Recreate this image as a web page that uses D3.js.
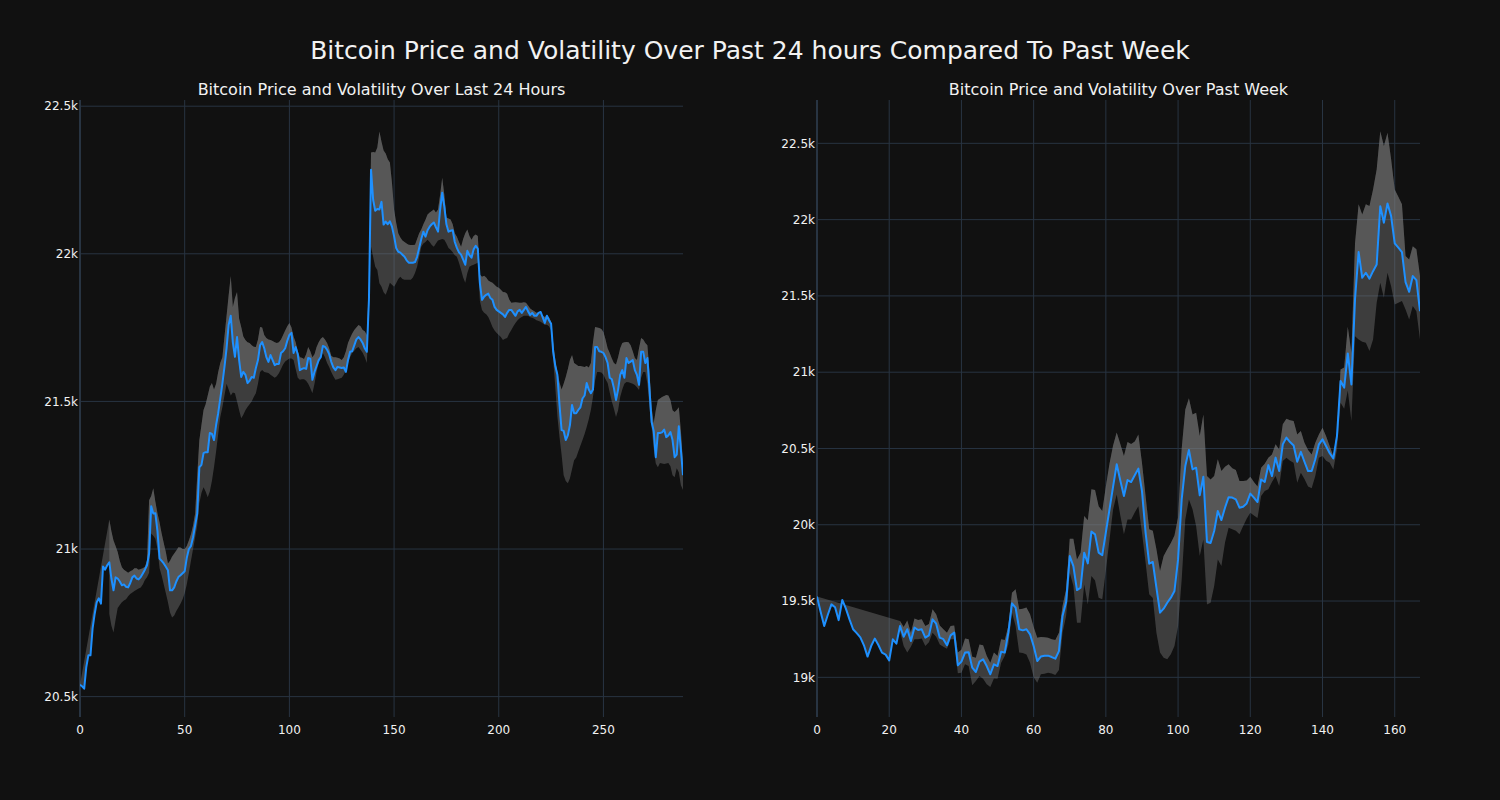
<!DOCTYPE html>
<html><head><meta charset="utf-8">
<script src="https://cdn.jsdelivr.net/npm/d3@7"></script>
<style>html,body{margin:0;background:#111111;}svg{display:block;}</style>
</head><body><svg id="chart" width="1500" height="800"></svg>
<script>
// ---------- DATA: last 24 hours (5-minute steps, index 0..288) ----------
const dayPrice = [
20540,20535,20527,20600,20640,20640,20730,20780,20820,20833,
20815,20941,20930,20945,20955,20900,20860,20904,20900,20890,
20877,20880,20872,20870,20885,20904,20910,20900,20897,20905,
20917,20930,20945,20985,21145,21120,21121,21060,20968,20960,
20951,20940,20928,20860,20860,20870,20890,20905,20911,20918,
20925,20970,21000,21010,21040,21080,21120,21277,21285,21325,
21328,21328,21393,21390,21369,21420,21460,21510,21560,21617,
21680,21760,21790,21700,21651,21718,21640,21583,21600,21590,
21562,21570,21583,21580,21613,21640,21690,21701,21680,21650,
21634,21657,21640,21623,21627,21627,21664,21670,21680,21705,
21725,21732,21664,21684,21660,21606,21610,21613,21610,21647,
21645,21573,21600,21620,21640,21650,21688,21685,21675,21660,
21634,21615,21606,21617,21615,21613,21615,21600,21640,21668,
21670,21690,21710,21718,21710,21698,21680,21668,21844,22285,
22183,22146,22152,22150,22176,22099,22109,22100,22110,22092,
22060,22020,22007,22004,21997,21990,21978,21970,21970,21970,
21972,21990,22020,22050,22075,22058,22080,22092,22100,22106,
22090,22075,22150,22207,22160,22100,22075,22078,22080,22040,
22020,22005,21997,21980,21963,22010,21995,21987,22015,22027,
22017,21900,21844,21855,21861,21865,21850,21844,21820,21810,
21805,21800,21795,21786,21800,21810,21810,21800,21790,21805,
21810,21800,21810,21820,21805,21793,21800,21790,21790,21800,
21803,21785,21766,21790,21775,21763,21668,21620,21590,21490,
21403,21400,21369,21385,21420,21488,21460,21460,21471,21480,
21510,21520,21562,21540,21528,21540,21684,21684,21670,21668,
21664,21650,21630,21580,21575,21545,21505,21540,21590,21606,
21580,21647,21630,21635,21640,21606,21590,21556,21668,21668,
21630,21647,21540,21430,21400,21311,21393,21393,21395,21405,
21379,21385,21396,21369,21311,21320,21416,21335,21250
];
const dayUpper = [
null,null,null,null,null,null,null,null,null,null,
null,null,null,null,21100,21060,21029,21010,20990,20960,
20938,20930,20925,20920,20925,20928,20935,20935,20930,20932,
20935,20940,20960,21165,21180,21206,21160,21121,21090,21053,
21020,20990,20951,20960,20975,20985,20995,21006,21005,21000,
21000,21010,21029,21050,21080,21121,21250,21369,21420,21471,
21490,21520,21550,21562,21540,21560,21600,21630,21650,21720,
21790,21860,21925,21820,21850,21871,21780,21752,21720,21708,
21700,21698,21690,21685,21684,21710,21752,21750,21725,21715,
21710,21708,21705,21700,21698,21700,21710,21725,21740,21755,
21766,21750,21720,21700,21670,21650,21648,21644,21660,21684,
21670,21650,21660,21684,21700,21712,21718,21710,21698,21680,
21655,21650,21650,21648,21645,21640,21650,21670,21698,21715,
21730,21742,21750,21759,21755,21742,21738,21725,21900,22343,
22345,22343,22360,22414,22380,22350,22340,22320,22309,22241,
22150,22106,22070,22055,22045,22040,22035,22031,22030,22030,
22031,22050,22070,22082,22100,22115,22133,22140,22145,22150,
22140,22150,22200,22258,22200,22123,22120,22116,22100,22070,
22058,22040,22024,22050,22070,22082,22060,22048,22060,22065,
22060,21930,21922,21926,21920,21910,21905,21902,21895,21888,
21885,21878,21871,21870,21865,21845,21834,21835,21836,21835,
21834,21834,21836,21834,21825,21815,21810,21805,21800,21800,
21798,21790,21786,21790,21785,21770,21700,21640,21600,21565,
21540,21560,21583,21610,21640,21657,21630,21625,21620,21620,
21618,21617,21620,21615,21630,21700,21752,21750,21749,21745,
21735,21710,21680,21664,21645,21630,21625,21650,21680,21698,
21700,21701,21700,21690,21670,21647,21640,21680,21715,21710,
21698,21690,21600,21480,21426,21470,21505,21510,21515,21518,
21522,21520,21505,21470,21464,21471,21480,21400,21290
];
const dayLower = [
null,null,null,null,null,null,null,null,null,null,
null,null,null,null,20780,20740,20717,20760,20800,20810,
20820,20826,20830,20840,20848,20853,20858,20862,20866,20870,
20880,20895,20904,20920,21053,21045,21035,21000,20935,20910,
20880,20850,20820,20785,20768,20775,20790,20802,20815,20830,
20850,20880,20920,20960,21000,21040,21080,21155,21190,21209,
21195,21175,21195,21230,21277,21330,21390,21447,21480,21520,
21560,21540,21520,21530,21528,21500,21470,21443,21455,21470,
21481,21490,21500,21515,21528,21560,21600,21606,21600,21598,
21596,21590,21585,21580,21585,21595,21610,21625,21635,21640,
21645,21645,21640,21610,21580,21573,21575,21575,21570,21560,
21545,21528,21560,21600,21630,21650,21664,21650,21630,21617,
21600,21585,21573,21575,21578,21580,21590,21606,21630,21650,
21664,21672,21680,21684,21675,21665,21650,21630,21800,22024,
21990,21956,21945,21900,21888,21870,21861,21880,21902,21895,
21888,21900,21915,21922,21915,21912,21912,21912,21912,21920,
21935,21956,21990,22024,22035,22040,22048,22040,22030,22024,
22035,22045,22048,22050,22048,22035,22020,22014,22005,21995,
21990,21970,21946,21920,21902,21935,21956,21960,21963,21966,
21970,21840,21810,21800,21795,21786,21770,21752,21740,21732,
21725,21718,21708,21712,21715,21730,21742,21755,21766,21775,
21782,21786,21790,21790,21790,21785,21783,21780,21775,21772,
21770,21765,21759,21760,21755,21740,21640,21549,21450,21380,
21320,21250,21230,21223,21240,21270,21301,21310,21330,21350,
21369,21390,21413,21440,21471,21515,21570,21600,21600,21598,
21590,21575,21562,21530,21500,21475,21447,21470,21515,21540,
21560,21566,21565,21562,21560,21556,21548,21539,21580,21600,
21600,21560,21480,21413,21340,21290,21277,21291,21290,21288,
21290,21291,21280,21250,21243,21274,21260,21216,21200
];

// ---------- DATA: past week (hourly, index 0..167) ----------
const weekPrice = [
19529,19430,19336,19410,19478,19459,19375,19507,19450,19380,
19315,19290,19262,19210,19136,19205,19254,19212,19162,19149,
19111,19249,19221,19336,19266,19315,19238,19326,19310,19315,
19260,19275,19380,19352,19260,19250,19210,19275,19293,19079,
19103,19162,19165,19063,19035,19103,19118,19074,19020,19085,
19074,19168,19162,19293,19485,19457,19315,19308,19315,19282,
19205,19107,19136,19142,19142,19133,19122,19172,19402,19493,
19795,19729,19572,19588,19817,19747,19955,19937,19817,19800,
19950,20100,20250,20396,20290,20188,20293,20280,20325,20368,
20221,19948,19745,19756,19588,19424,19450,19489,19522,19566,
19773,20166,20385,20490,20363,20374,20193,20315,19887,19880,
19959,20090,20031,20112,20181,20178,20166,20112,20118,20140,
20204,20178,20149,20297,20280,20391,20319,20440,20352,20527,
20571,20542,20520,20413,20478,20413,20352,20352,20429,20527,
20560,20515,20469,20435,20581,20942,20899,21123,20920,21477,
21787,21619,21652,21613,21662,21706,22088,21980,22106,22023,
21844,21816,21787,21590,21527,21630,21603,21400
];
const weekUpper = [
null,null,null,null,null,null,null,null,null,null,
null,null,null,null,null,null,null,null,null,null,
null,null,null,19370,19330,19373,19293,19385,19375,19380,
19336,19350,19446,19413,19340,19315,19293,19336,19340,19162,
19180,19254,19250,19135,19129,19216,19210,19142,19096,19162,
19140,19249,19245,19336,19555,19577,19446,19450,19457,19413,
19330,19260,19265,19262,19260,19250,19245,19293,19467,19577,
19909,19909,19773,19817,20057,20030,20232,20228,20122,20090,
20250,20400,20520,20604,20530,20451,20542,20530,20545,20592,
20407,20188,19970,19960,19839,19697,19795,19839,19880,19930,
20050,20500,20756,20830,20723,20734,20581,20723,20319,20297,
20319,20429,20352,20380,20396,20370,20359,20286,20286,20290,
20315,20280,20250,20374,20400,20440,20461,20527,20494,20658,
20695,20685,20680,20592,20614,20538,20490,20461,20538,20592,
20636,20580,20515,20450,20604,21018,21030,21298,21128,21843,
22100,22034,22100,22090,22198,22329,22580,22482,22570,22395,
22198,22150,22100,21761,21739,21826,21806,21630
];
const weekLower = [
null,null,null,null,null,null,null,null,null,null,
null,null,null,null,null,null,null,null,null,null,
null,null,null,19300,19205,19162,19200,19250,19250,19254,
19205,19230,19293,19266,19215,19200,19188,19250,19250,19026,
19030,19085,19074,18948,18976,19009,18990,18954,18936,18993,
18990,19096,19140,19216,19424,19336,19162,19160,19150,19096,
19000,18965,19020,19024,19030,19025,19015,19048,19293,19402,
19686,19600,19358,19358,19609,19478,19664,19635,19522,19511,
19700,19900,20100,20199,20060,19937,20035,20035,20080,20122,
19948,19752,19544,19520,19293,19162,19129,19118,19151,19205,
19336,19642,20035,20166,20101,19991,19795,19904,19478,19489,
19598,19773,19730,19883,19981,19970,19960,19937,19991,20040,
20079,20060,20045,20188,20221,20232,20280,20319,20254,20418,
20440,20420,20407,20276,20341,20300,20250,20240,20319,20440,
20451,20420,20407,20363,20494,20800,20760,20880,20680,21236,
21215,21200,21193,21139,21215,21455,21586,21488,21652,21564,
21444,21455,21466,21411,21346,21433,21400,21215
];

// ---------- tick values ----------
const dayXTicks = [0, 50, 100, 150, 200, 250];
const dayYTicks = [20500, 21000, 21500, 22000, 22500];
const weekXTicks = [0, 20, 40, 60, 80, 100, 120, 140, 160];
const weekYTicks = [19000, 19500, 20000, 20500, 21000, 21500, 22000, 22500];

const mainTitle = "Bitcoin Price and Volatility Over Past 24 hours Compared To Past Week";
const dayTitle = "Bitcoin Price and Volatility Over Last 24 Hours";
const weekTitle = "Bitcoin Price and Volatility Over Past Week";

// ---------- layout ----------
const FONT = "'DejaVu Sans', Verdana, sans-serif";
const TEXT = "#f2f2f2";
const GRID = "#283442";
const LINE = "#1e90ff";
const BAND = "rgba(128,128,128,0.40)";
const TOP = 100, BOTTOM = 717;

const svg = d3.select("#chart");
svg.append("rect").attr("width", 1500).attr("height", 800).attr("fill", "#111111");

svg.append("text").attr("x", 750).attr("y", 58.5).attr("text-anchor", "middle")
  .attr("font-family", FONT).attr("font-size", 25).attr("fill", TEXT).text(mainTitle);

const panels = [
  {title: dayTitle, price: dayPrice, upper: dayUpper, lower: dayLower,
   xTicks: dayXTicks, yTicks: dayYTicks, xMax: 288, yDomain: [20431, 22521], left: 80, right: 683},
  {title: weekTitle, price: weekPrice, upper: weekUpper, lower: weekLower,
   xTicks: weekXTicks, yTicks: weekYTicks, xMax: 167, yDomain: [18740, 22784], left: 817, right: 1420}
];

const fmtK = v => (v / 1000) + "k";

panels.forEach(p => {
  const x = d3.scaleLinear().domain([0, p.xMax]).range([p.left, p.right]);
  const y = d3.scaleLinear().domain(p.yDomain).range([BOTTOM, TOP]);
  const g = svg.append("g");

  // grid
  g.selectAll(".hg").data(p.yTicks).join("line")
    .attr("x1", p.left).attr("x2", p.right)
    .attr("y1", d => y(d)).attr("y2", d => y(d))
    .attr("stroke", GRID).attr("stroke-width", 1);
  g.selectAll(".vg").data(p.xTicks.filter(d => d !== 0)).join("line")
    .attr("x1", d => x(d)).attr("x2", d => x(d))
    .attr("y1", TOP).attr("y2", BOTTOM)
    .attr("stroke", GRID).attr("stroke-width", 1);
  // zero line
  g.append("line").attr("x1", x(0)).attr("x2", x(0)).attr("y1", TOP).attr("y2", BOTTOM)
    .attr("stroke", GRID).attr("stroke-width", 2);

  // tick labels
  g.selectAll(".xl").data(p.xTicks).join("text")
    .attr("x", d => x(d)).attr("y", BOTTOM + 16.5).attr("text-anchor", "middle")
    .attr("font-family", FONT).attr("font-size", 12).attr("fill", TEXT).text(d => d);
  g.selectAll(".yl").data(p.yTicks).join("text")
    .attr("x", p.left - 2).attr("y", d => y(d) + 4.3).attr("text-anchor", "end")
    .attr("font-family", FONT).attr("font-size", 12).attr("fill", TEXT).text(fmtK);

  // subplot title
  g.append("text").attr("x", (p.left + p.right) / 2).attr("y", 95).attr("text-anchor", "middle")
    .attr("font-family", FONT).attr("font-size", 16).attr("fill", TEXT).text(p.title);

  const idx = d3.range(p.price.length);
  const clip = "clip" + p.left;
  svg.append("clipPath").attr("id", clip).append("rect")
    .attr("x", p.left).attr("y", TOP).attr("width", p.right - p.left).attr("height", BOTTOM - TOP);
  const pg = g.append("g").attr("clip-path", `url(#${clip})`);

  // band between upper and lower
  const bandArea = d3.area()
    .defined(i => p.upper[i] != null && p.lower[i] != null)
    .x(i => x(i)).y0(i => y(p.lower[i])).y1(i => y(p.upper[i]));
  pg.append("path").attr("d", bandArea(idx)).attr("fill", BAND);

  // fill between price and upper (closing back to first price point)
  const pts = idx.map(i => [x(i), y(p.price[i])])
    .concat(idx.filter(i => p.upper[i] != null).reverse().map(i => [x(i), y(p.upper[i])]));
  pg.append("path").attr("d", d3.line()(pts) + "Z").attr("fill", BAND);

  // price line
  const priceLine = d3.line().x(i => x(i)).y(i => y(p.price[i]));
  pg.append("path").attr("d", priceLine(idx)).attr("fill", "none")
    .attr("stroke", LINE).attr("stroke-width", 2).attr("stroke-linejoin", "round");
});
</script></body></html>
